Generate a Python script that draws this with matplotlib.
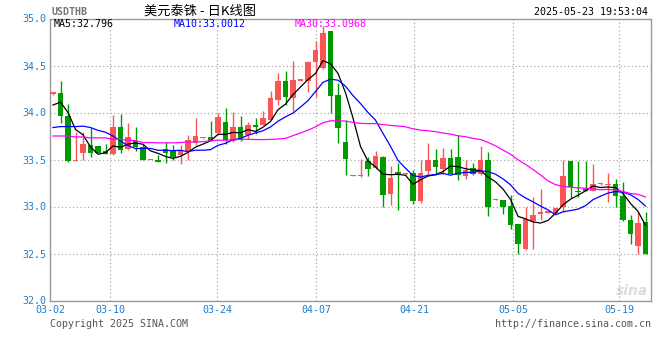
import numpy as np
import pandas as pd
import matplotlib
matplotlib.use("Agg")
import matplotlib.pyplot as plt

# ---------------- data ----------------
opens = [34.20, 34.21, 33.96, 33.48, 33.57, 33.65, 33.64, 33.59, 33.56, 33.85,
         33.61, 33.70, 33.63, 33.49, 33.50, 33.61, 33.60, 33.55, 33.59, 33.68,
         33.725, 33.74, 33.78, 33.90, 33.70, 33.85, 33.76, 33.87, 33.87, 33.92,
         34.13, 34.34, 34.15, 34.34, 34.34, 34.54, 34.47, 34.87, 34.19, 33.69,
         33.325, 33.32, 33.48, 33.41, 33.53, 33.13, 33.37, 33.345, 33.36, 33.06,
         33.38, 33.49, 33.40, 33.52, 33.53, 33.32, 33.41, 33.35, 33.50, 33.07,
         33.07, 33.01, 32.81, 32.55, 32.85, 32.92, 32.935, 32.93, 33.00, 33.48,
         33.17, 33.19, 33.17, 33.235, 33.23, 33.24, 33.11, 32.86, 32.58, 32.84]
highs = [34.21, 34.33, 34.09, 33.79, 33.79, 33.83, 33.64, 33.67, 33.97, 33.98,
         33.89, 33.85, 33.67, 33.50, 33.55, 33.69, 33.65, 33.65, 33.76, 33.94,
         33.73, 33.91, 34.00, 34.05, 34.01, 33.96, 33.90, 33.94, 34.02, 34.23,
         34.42, 34.44, 34.55, 34.35, 34.55, 34.76, 34.92, 34.87, 34.31, 33.92,
         33.34, 33.51, 33.53, 33.59, 33.54, 33.43, 33.46, 33.36, 33.39, 33.50,
         33.68, 33.61, 33.62, 33.61, 33.76, 33.49, 33.46, 33.64, 33.58, 33.08,
         33.07, 33.12, 32.81, 32.99, 33.10, 33.19, 32.95, 32.98, 33.50, 33.48,
         33.48, 33.48, 33.45, 33.245, 33.36, 33.29, 33.26, 32.91, 32.94, 32.94]
lows = [34.19, 33.89, 33.47, 33.48, 33.49, 33.53, 33.57, 33.56, 33.55, 33.57,
        33.60, 33.59, 33.49, 33.49, 33.47, 33.46, 33.49, 33.45, 33.50, 33.65,
        33.72, 33.70, 33.76, 33.66, 33.69, 33.70, 33.72, 33.77, 33.87, 33.92,
        34.08, 34.08, 34.02, 34.34, 34.22, 34.16, 34.46, 34.00, 33.68, 33.33,
        33.32, 33.31, 33.32, 33.40, 33.00, 33.02, 32.96, 33.34, 33.03, 33.04,
        33.33, 33.33, 33.35, 33.35, 33.28, 33.29, 33.34, 33.33, 32.90, 33.07,
        32.92, 32.76, 32.50, 32.54, 32.55, 32.86, 32.93, 32.93, 32.94, 33.09,
        33.10, 33.16, 33.17, 33.23, 33.05, 33.00, 32.85, 32.60, 32.49, 32.50]
closes = [34.21, 33.96, 33.48, 33.49, 33.67, 33.57, 33.57, 33.56, 33.85, 33.60,
          33.74, 33.63, 33.49, 33.50, 33.47, 33.57, 33.53, 33.60, 33.71, 33.75,
          33.73, 33.70, 33.95, 33.71, 33.85, 33.71, 33.87, 33.85, 33.94, 34.15,
          34.34, 34.17, 34.35, 34.35, 34.54, 34.67, 34.85, 34.18, 33.84, 33.51,
          33.33, 33.33, 33.40, 33.54, 33.12, 33.30, 33.35, 33.35, 33.06, 33.36,
          33.50, 33.42, 33.52, 33.35, 33.33, 33.39, 33.35, 33.50, 33.00, 33.075,
          33.00, 32.80, 32.60, 32.87, 32.91, 32.94, 32.94, 32.98, 33.32, 33.21,
          33.15, 33.17, 33.24, 33.24, 33.24, 33.11, 32.86, 32.71, 32.82, 32.50]

# moving-average values before enough candles exist
ma5_head = [34.08, 34.11, 34.00, 33.82]
ma10_head = [33.84, 33.85, 33.85, 33.85, 33.855, 33.84, 33.81, 33.79, 33.75]
ma30_head = [33.75, 33.75, 33.75, 33.74, 33.74, 33.73, 33.73, 33.73, 33.715, 33.715,
             33.705, 33.70, 33.68, 33.68, 33.677, 33.677, 33.677, 33.68, 33.687, 33.687,
             33.69, 33.70, 33.705, 33.705, 33.71, 33.715, 33.715, 33.712, 33.712]

tick_labels = ["03-02", "03-10", "03-24", "04-07", "04-21", "05-05", "05-19"]
y_ticks = [32.0, 32.5, 33.0, 33.5, 34.0, 34.5, 35.0]

title = "美元泰铢 - 日K线图"
symbol = "USDTHB"
stamp = "2025-05-23 19:53:04"
ma_texts = ["MA5:32.796", "MA10:33.0012", "MA30:33.0968"]

# ---------------- layout constants ----------------
tick_pos = [-0.4, 7.6, 21.9, 35.07, 48.13, 61.33, 75.47]
RED = "#fa5656"
GREEN = "#009a00"
BLUE_TXT = "#1f7fd0"
MONO = "DejaVu Sans Mono"

plt.rcParams['font.family'] = ['Noto Sans CJK SC', 'DejaVu Sans']

fig = plt.figure(figsize=(6.6, 3.6), dpi=100)
W, H = 660, 360
ax = fig.add_axes([50 / W, (H - 300.5) / H, 601 / W, 282 / H])

n = len(closes)
x = np.arange(n)
o = np.array(opens); c = np.array(closes); hi = np.array(highs); lo = np.array(lows)
up = c >= o
cols = np.where(up, RED, GREEN)

# wicks
ax.vlines(x, lo, hi, colors=cols, linewidth=1.0, zorder=3)
# bodies
bottom = np.minimum(o, c)
height = np.maximum(np.abs(c - o), 0.014)
ax.bar(x, height, bottom=bottom, width=0.74, color=cols, edgecolor='none', zorder=4)

def ma(values, win, head):
    s = pd.Series(values).rolling(win).mean().to_numpy()
    s[:len(head)] = head
    return s

ax.plot(x, ma(closes, 5, ma5_head), color='black', lw=0.9, zorder=5)
ax.plot(x, ma(closes, 10, ma10_head), color='#0000ff', lw=0.9, zorder=5)
ax.plot(x, ma(closes, 30, ma30_head), color='#ff00ff', lw=0.9, zorder=5)

ax.set_xlim(-0.4, 79.73)
ax.set_ylim(32.0, 35.0)

# grid
for yv in y_ticks[1:-1]:
    ax.axhline(yv, color='#aaaaaa', lw=0.9, ls=(0, (1, 2)), zorder=1)
for xv in tick_pos[1:]:
    ax.axvline(xv, color='#aaaaaa', lw=0.9, ls=(0, (1, 2)), zorder=1)

for sp in ax.spines.values():
    sp.set_color('#999999')
    sp.set_linewidth(1.0)

ax.set_yticks(y_ticks)
ax.set_yticklabels([f"{v:.1f}" for v in y_ticks], fontsize=7.2, color=BLUE_TXT, family=MONO)
ax.set_xticks(tick_pos)
ax.set_xticklabels(tick_labels, fontsize=7.2, color=BLUE_TXT, family=MONO)
ax.tick_params(axis='y', length=0, pad=3)
ax.tick_params(axis='x', length=0, pad=3)

# MA legend texts
ma_cols = ['black', '#0000ff', '#ff00ff']
ma_x = [54, 174, 295]
for t, col, xx in zip(ma_texts, ma_cols, ma_x):
    fig.text(xx / W, 1 - 24 / H, t, color=col, fontsize=7.2, family=MONO,
             ha='left', va='center')

# watermark
ax.text(0.995, 0.01, "sina", transform=ax.transAxes, ha='right', va='bottom',
        fontsize=10, style='italic', weight='bold', color='#dcdcdc', family='DejaVu Sans', zorder=0)

# header
fig.text(52 / W, 1 - 12 / H, symbol, color='#777777', fontsize=7.2, family=MONO,
         weight='bold', ha='left', va='center')
fig.text(200 / W, 1 - 11 / H, title, color='black', fontsize=9.5,
         family=['Noto Sans CJK SC', 'DejaVu Sans'], ha='center', va='center')
fig.text(648 / W, 1 - 12 / H, stamp, color='black', fontsize=7.2, family=MONO,
         ha='right', va='center')

# footer
fig.text(50 / W, 1 - 324 / H, "Copyright 2025 SINA.COM", color='#555555', fontsize=7.2,
         family=MONO, ha='left', va='center')
fig.text(651 / W, 1 - 324 / H, "http://finance.sina.com.cn", color='#555555', fontsize=7.2,
         family=MONO, ha='right', va='center')

fig.savefig("out.png", dpi=100)
